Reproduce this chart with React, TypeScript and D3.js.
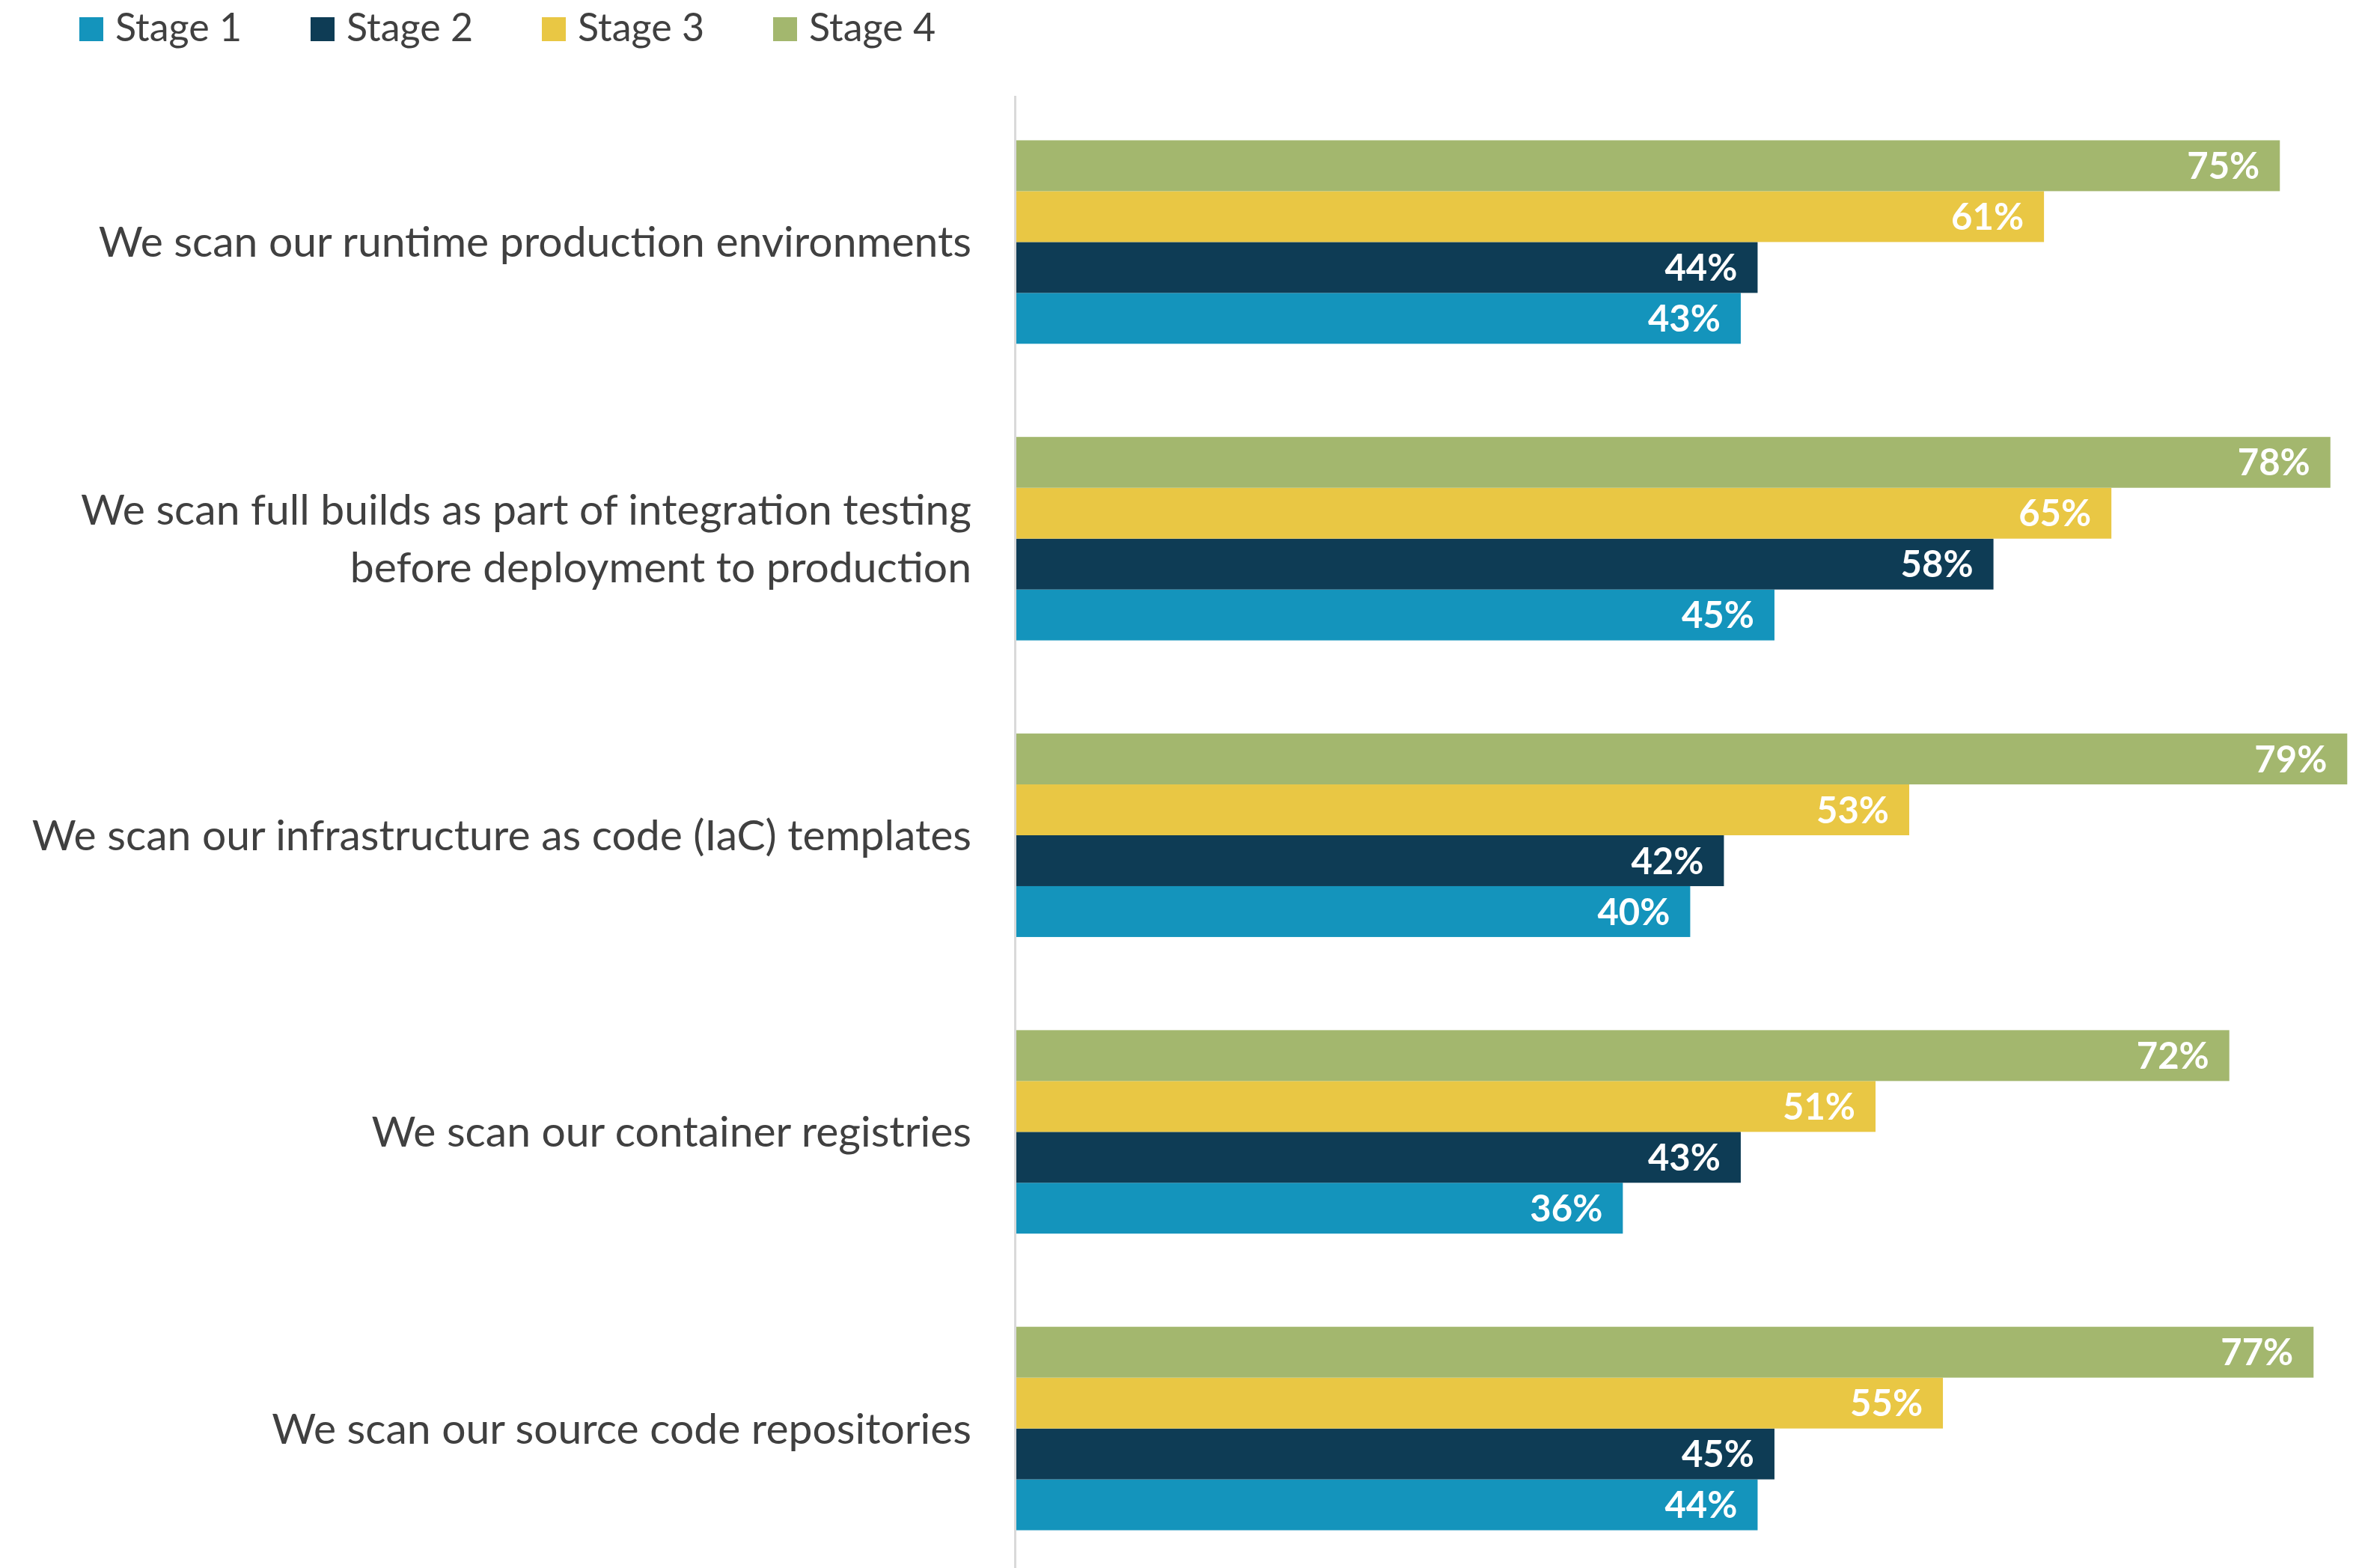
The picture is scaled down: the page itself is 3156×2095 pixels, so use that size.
import React, { useEffect } from 'react';
import * as d3 from 'd3';

// categories, top to bottom (each may wrap over several lines)
const categories = [
  ['We scan our runtime production environments'],
  ['We scan full builds as part of integration testing', 'before deployment to production'],
  ['We scan our infrastructure as code (IaC) templates'],
  ['We scan our container registries'],
  ['We scan our source code repositories'],
];

const stages = ['Stage 1', 'Stage 2', 'Stage 3', 'Stage 4'];
const colors = ['#1494BC', '#0E3C55', '#E9C744', '#A3B76E'];

// percent per category, one array per stage
const stage1 = [43, 45, 40, 36, 44];
const stage2 = [44, 58, 42, 43, 45];
const stage3 = [61, 65, 53, 51, 55];
const stage4 = [75, 78, 79, 72, 77];

const series = [stage1, stage2, stage3, stage4];

const W = 3156;
const H = 2095;
const FONT = 'Lato, "Noto Sans", sans-serif';
const TEXT = '#404040';

const App = () => {
  useEffect(() => {
    document.body.style.margin = '0';
  }, []);

  const idx = categories.map((_, i) => i);

  const y = d3.scaleBand<number>()
    .domain(idx)
    .range([128, 2104])
    .paddingInner(0.314)
    .paddingOuter(0.15);

  // stage 4 on top, stage 1 at the bottom
  const ySub = d3.scaleBand<number>()
    .domain([3, 2, 1, 0])
    .range([0, y.bandwidth()]);

  const x = d3.scaleLinear()
    .domain([0, 100])
    .range([1358, 3609]);

  const axisX = x(0) - 1.5;

  return (
    <svg width={W} height={H} style={{ display: 'block', background: '#fff' }}>
      {/* legend */}
      <g>
        {stages.map((s, i) => (
          <g key={s} transform={`translate(${106 + i * 309},0)`}>
            <rect x={0} y={23} width={32} height={32} fill={colors[i]} />
            <text x={48} y={55} fontFamily={FONT} fontSize={52} fill={TEXT}>{s}</text>
          </g>
        ))}
      </g>

      {/* axis line */}
      <line x1={axisX} x2={axisX} y1={128} y2={H} stroke="#D9D9D9" strokeWidth={3} />

      {/* bars */}
      {idx.map(ci => (
        <g key={ci} transform={`translate(0,${y(ci)})`}>
          {series.map((vals, si) => {
            const by = ySub(si)!;
            const bh = ySub.bandwidth();
            const xEnd = x(vals[ci]);
            return (
              <g key={si}>
                <rect x={x(0)} y={by} width={xEnd - x(0)} height={bh} fill={colors[si]} />
                <text
                  x={xEnd - 27}
                  y={by + bh / 2}
                  dy="0.36em"
                  textAnchor="end"
                  fontFamily={FONT}
                  fontWeight={700}
                  fontSize={49}
                  fill="#fff"
                >
                  {vals[ci]}%
                </text>
              </g>
            );
          })}
        </g>
      ))}

      {/* category labels */}
      {categories.map((lines, ci) => {
        const cy = y(ci)! + y.bandwidth() / 2;
        const lh = 77;
        const first = cy - ((lines.length - 1) * lh) / 2;
        return (
          <text
            key={ci}
            textAnchor="end"
            fontFamily={FONT}
            fontSize={57}
            fill={TEXT}
          >
            {lines.map((ln, li) => (
              <tspan key={li} x={1298} y={first + li * lh} dy="0.35em">{ln}</tspan>
            ))}
          </text>
        );
      })}
    </svg>
  );
};

export default App;
